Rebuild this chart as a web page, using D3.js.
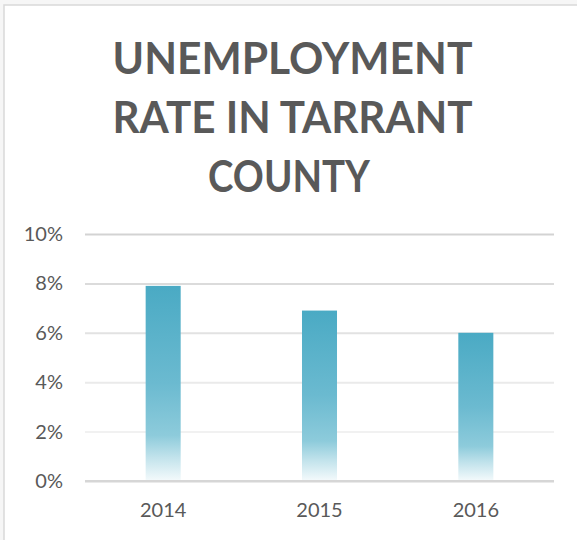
<!DOCTYPE html>
<html>
<head>
<meta charset="utf-8">
<script src="https://cdn.jsdelivr.net/npm/d3@7"></script>
<style>
  html, body { margin: 0; padding: 0; background: #ffffff; }
  svg { display: block; }
</style>
</head>
<body>
<svg id="chart" width="577" height="540"></svg>
<script>
// Unemployment rate, Tarrant County
const years = ["2014", "2015", "2016"];
const rates = [7.9, 6.9, 6.0];          // percent
const yTicks = [0, 2, 4, 6, 8, 10];     // percent
const titleLines = ["UNEMPLOYMENT", "RATE IN TARRANT", "COUNTY"];

const W = 577, H = 540;
const svg = d3.select("#chart");

// Chart area frame
svg.append("rect").attr("x", 0).attr("y", 0).attr("width", W).attr("height", H).attr("fill", "#f6f6f6");
svg.append("rect")
  .attr("x", 4).attr("y", 5).attr("width", W + 10).attr("height", H + 10)
  .attr("fill", "#ffffff").attr("stroke", "#d9d9d9").attr("stroke-width", 1.5);

// Title, each line fitted to its set width
const titleWidths = [360, 360, 162];
const title = svg.append("text")
  .attr("text-anchor", "middle")
  .attr("font-family", "Lato, 'Open Sans', sans-serif")
  .attr("font-weight", 700)
  .attr("font-size", 44)
  .attr("fill", "#595959");
titleLines.forEach((t, i) => {
  title.append("tspan")
    .attr("x", i === 2 ? 289 : 292.5)
    .attr("y", 73.5 + i * 59.2)
    .attr("textLength", titleWidths[i])
    .attr("lengthAdjust", "spacingAndGlyphs")
    .text(t);
});

// Scales
const plot = { left: 85, right: 554, top: 234, bottom: 481 };
const x = d3.scaleBand().domain(years).range([plot.left, plot.right]).padding(0);
const y = d3.scaleLinear().domain([0, 10]).range([plot.bottom, plot.top]);
const barW = x.bandwidth() * 0.224;

// Gridlines fade toward the baseline
const gridColor = d3.scaleLinear().domain([2, 10]).range(["#f1f1f1", "#d3d3d3"]);
const yAxis = d3.axisLeft(y).tickValues(yTicks).tickFormat(d => d + "%")
  .tickSize(-(plot.right - plot.left)).tickPadding(22);

const gy = svg.append("g").attr("transform", `translate(${plot.left},0)`).call(yAxis);
gy.select(".domain").remove();
gy.selectAll(".tick line")
  .attr("stroke", d => d === 0 ? "#d6d6d6" : gridColor(d))
  .attr("stroke-width", 2);
gy.selectAll(".tick text")
  .attr("font-family", "Lato, 'Open Sans', sans-serif")
  .attr("font-size", 20)
  .attr("fill", "#595959");

// Bar fill
const defs = svg.append("defs");
const grad = defs.append("linearGradient").attr("id", "barFill")
  .attr("x1", 0).attr("y1", 0).attr("x2", 0).attr("y2", 1);
[[0, "#4aaac4"], [0.5, "#6bbad0"], [0.77, "#8dcbdb"], [0.88, "#c0e2eb"], [1, "#f2f9fb"]]
  .forEach(([o, c]) => grad.append("stop").attr("offset", o).attr("stop-color", c));

svg.append("g").selectAll("rect")
  .data(years.map((yr, i) => ({ yr, v: rates[i] })))
  .join("rect")
  .attr("x", d => x(d.yr) + (x.bandwidth() - barW) / 2)
  .attr("y", d => y(d.v))
  .attr("width", barW)
  .attr("height", d => y(0) - y(d.v) - 1)
  .attr("fill", "url(#barFill)");

// Baseline drawn over the bars
svg.append("line")
  .attr("x1", plot.left).attr("x2", plot.right)
  .attr("y1", y(0)).attr("y2", y(0))
  .attr("stroke", "#d6d6d6").attr("stroke-width", 2);

// Category axis
const xAxis = d3.axisBottom(x).tickSize(0).tickPadding(22);
const gx = svg.append("g").attr("transform", `translate(0,${plot.bottom})`).call(xAxis);
gx.select(".domain").remove();
gx.selectAll(".tick text")
  .attr("font-family", "Lato, 'Open Sans', sans-serif")
  .attr("font-size", 20)
  .attr("fill", "#595959");
</script>
</body>
</html>
